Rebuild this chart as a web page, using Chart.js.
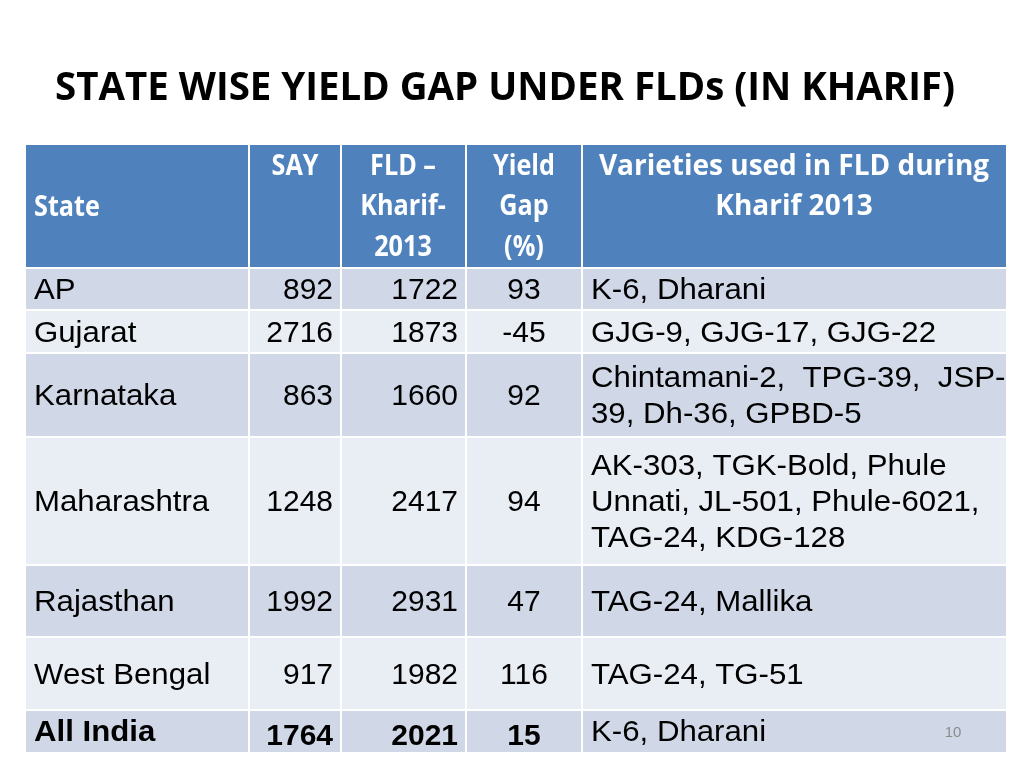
<!DOCTYPE html>
<html><head><meta charset="utf-8">
<script src="https://cdn.jsdelivr.net/npm/chart.js@4"></script>
<style>html,body{margin:0;padding:0;background:#fff}canvas{display:block}</style>
</head><body><canvas id="c" width="1024" height="768"></canvas>
<script>
const title = "STATE WISE YIELD GAP UNDER FLDs (IN KHARIF)";
const headers = ["State", "SAY", "FLD –\nKharif-\n2013", "Yield\nGap\n(%)", "Varieties used in FLD during\nKharif 2013"];
const states = ["AP","Gujarat","Karnataka","Maharashtra","Rajasthan","West Bengal","All India"];
const sayValues = [892,2716,863,1248,1992,917,1764];
const fldValues = [1722,1873,1660,2417,2931,1982,2021];
const yieldGap = [93,-45,92,94,47,116,15];
const varieties = [
 ["K-6, Dharani"],
 ["GJG-9, GJG-17, GJG-22"],
 ["Chintamani-2,  TPG-39,  JSP-","39, Dh-36, GPBD-5"],
 ["AK-303, TGK-Bold, Phule","Unnati, JL-501, Phule-6021,","TAG-24, KDG-128"],
 ["TAG-24, Mallika"],
 ["TAG-24, TG-51"],
 ["K-6, Dharani"]
];
const pageNumber = "10";

const colX = [26,249,341,466,582,1006];
const rowY = [145,268,310,353,437,565,637,710,752];

const tablePlugin = {
  id:'tablePlugin',
  afterDraw(chart){
    const ctx = chart.ctx, xs = chart.scales.x, ys = chart.scales.y;
    const X = v => xs.getPixelForValue(v), Y = v => ys.getPixelForValue(v);
    const sx = (t,x,y,s)=>{ctx.save();ctx.translate(x,y);ctx.scale(s,1);ctx.fillText(t,0,0);ctx.restore();};
    ctx.save();
    ctx.fillStyle = '#000';
    ctx.textBaseline = 'alphabetic';
    ctx.font = 'bold 40px "Open Sans"';
    const tw = ctx.measureText(title).width;
    ctx.textAlign='left';
    sx(title, X(55), Y(100), 900/tw);
    ctx.fillStyle = '#4F81BD';
    ctx.fillRect(X(colX[0]),Y(rowY[0]),X(colX[5])-X(colX[0]),Y(rowY[1])-Y(rowY[0]));
    for(let r=0;r<states.length;r++){
      ctx.fillStyle = r%2===0 ? '#D0D8E8' : '#E9EDF4';
      ctx.fillRect(X(colX[0]),Y(rowY[r+1]),X(colX[5])-X(colX[0]),Y(rowY[r+2])-Y(rowY[r+1]));
    }
    ctx.strokeStyle = '#fff'; ctx.lineWidth = 2;
    for(let i=1;i<colX.length-1;i++){ctx.beginPath();ctx.moveTo(X(colX[i]),Y(rowY[0]));ctx.lineTo(X(colX[i]),Y(rowY[rowY.length-1]));ctx.stroke();}
    for(let i=1;i<rowY.length-1;i++){ctx.beginPath();ctx.moveTo(X(colX[0]),Y(rowY[i]));ctx.lineTo(X(colX[5]),Y(rowY[i]));ctx.stroke();}
    ctx.fillStyle = '#fff';
    ctx.font = 'bold 28px "Open Sans"';
    ctx.textBaseline = 'middle';
    const hs = 0.9;
    ctx.textAlign = 'left'; sx(headers[0], X(34), Y(208), hs);
    const hc = [null,295,403,524,794];
    ctx.textAlign='center';
    for(let c=1;c<5;c++){
      const lines = headers[c].split('\n');
      lines.forEach((l,i)=>sx(l,X(hc[c]),Y(167+i*40.5), c===4?1:hs));
    }
    ctx.fillStyle = '#000';
    for(let r=0;r<states.length;r++){
      const last = r===states.length-1;
      const mid = (rowY[r+1]+rowY[r+2])/2 + 2;
      ctx.font = (last?'bold ':'')+'30px "Liberation Sans", Arial';
      ctx.textAlign='left'; sx(states[r], X(34), Y(last?733:mid), 1.04);
      const ny = last?737:mid;
      ctx.textAlign='right'; sx(String(sayValues[r]), X(333), Y(ny), 1.0);
      sx(String(fldValues[r]), X(458), Y(ny), 1.0);
      ctx.textAlign='center'; sx(String(yieldGap[r]), X(524), Y(ny), 1.0);
      ctx.font='30px "Liberation Sans", Arial'; ctx.textAlign='left';
      const v = varieties[r], lh=36;
      const y0 = (last?733:mid) - (v.length-1)*lh/2;
      v.forEach((l,i)=>sx(l, X(591), Y(y0+i*lh), 1.04));
    }
    ctx.fillStyle='#8c8c8c'; ctx.font='15px "Liberation Sans", Arial'; ctx.textAlign='center';
    ctx.fillText(pageNumber, X(953), Y(733));
    ctx.restore();
  }
};

new Chart(document.getElementById('c'), {
  type:'scatter',
  data:{datasets:[{data:[],pointRadius:0}]},
  options:{
    responsive:false, animation:false,
    layout:{padding:0},
    plugins:{legend:{display:false},tooltip:{enabled:false}},
    scales:{
      x:{type:'linear',min:0,max:1024,display:false},
      y:{type:'linear',min:0,max:768,reverse:true,display:false}
    }
  },
  plugins:[tablePlugin]
});
</script></body></html>
